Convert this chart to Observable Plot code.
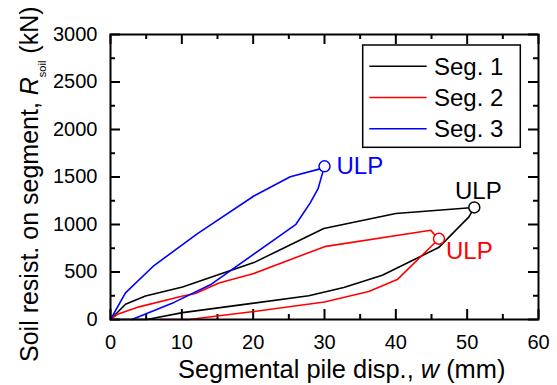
<!DOCTYPE html>
<html>
<head>
<meta charset="utf-8">
<script src="https://cdn.jsdelivr.net/npm/d3@7"></script>
<script src="https://cdn.jsdelivr.net/npm/@observablehq/plot@0.6"></script>
<style>
  html, body { margin: 0; padding: 0; background: #fff; }
  #chart { position: relative; width: 557px; height: 385px; }
</style>
</head>
<body>
<div id="chart"></div>
<script>
// ---- data ----
const seriesNames = ["Seg. 1", "Seg. 2", "Seg. 3"];
const seriesColors = ["#000000", "#ff0000", "#0000ff"];

const seg1X = [0, 2.1, 4.9, 10.1, 20.1, 29.9, 40.0, 50.0, 51.0, 50.25, 46.0, 38.1, 32.7, 27.8, 20.1, 10.1, 5.1, 0];
const seg1Y = [0, 161, 247, 343, 599, 957, 1115, 1174, 1180, 1080, 757, 466, 337, 250, 172, 72, 0, 0];

const seg2X = [0, 0.9, 4.0, 10.0, 11.9, 15.2, 20.1, 30.0, 44.9, 45.3, 46.05, 40.2, 36.2, 30.0, 20.1, 11.0, 7.0];
const seg2Y = [0, 52, 133, 245, 273, 385, 484, 767, 940, 904, 850, 420, 294, 185, 84, 0, 0];

const seg3X = [0, 2.1, 6.1, 12.2, 20.1, 25.2, 29.5, 30.0, 29.5, 29.1, 28.0, 26.0, 14.0, 8.9, 3.0];
const seg3Y = [0, 280, 568, 904, 1300, 1503, 1588, 1612, 1483, 1377, 1228, 1002, 365, 180, 0];

const ulpX = [51.0, 46.05, 30.0];
const ulpY = [1180, 850, 1612];
const ulpLabel = ["ULP", "ULP", "ULP"];

const xTicks = [0, 10, 20, 30, 40, 50, 60];
const xMinor = [5, 15, 25, 35, 45, 55];
const yTicks = [0, 500, 1000, 1500, 2000, 2500, 3000];
const yMinor = [250, 750, 1250, 1750, 2250, 2750];

// ---- build tables ----
const segX = [seg1X, seg2X, seg3X];
const segY = [seg1Y, seg2Y, seg3Y];
const rows = [];
seriesNames.forEach((name, s) => {
  segX[s].forEach((x, i) => rows.push({series: name, x, y: segY[s][i]}));
});
const ulp = seriesNames.map((name, s) => ({series: name, x: ulpX[s], y: ulpY[s], label: ulpLabel[s]}));

const W = 557, H = 385, mt = 34, mb = 66, ml = 110, mr = 19;
const innerH = H - mt - mb, innerW = W - ml - mr;
const major = 10, minor = 5;
const font = "'Liberation Sans', Arial, Helvetica, sans-serif";

const plot = Plot.plot({
  width: W, height: H,
  marginTop: mt, marginBottom: mb, marginLeft: ml, marginRight: mr,
  style: {fontFamily: font, fontSize: "20px", color: "#000", background: "#fff", overflow: "visible"},
  x: {domain: [0, 60]},
  y: {domain: [0, 3000]},
  color: {domain: seriesNames, range: seriesColors},
  marks: [
    Plot.axisX({ticks: xTicks, tickSize: 0, tickPadding: 15, label: null, fontSize: 20, tickFormat: d => String(d)}),
    Plot.axisY({ticks: yTicks, tickSize: 0, tickPadding: 13, label: null, fontSize: 20, tickFormat: d => String(d)}),
    // inward ticks, all four sides
    Plot.tickX(xTicks, {x: d => d, insetTop: innerH - major, strokeWidth: 2}),
    Plot.tickX(xTicks, {x: d => d, insetBottom: innerH - major, strokeWidth: 2}),
    Plot.tickX(xMinor, {x: d => d, insetTop: innerH - minor, strokeWidth: 2}),
    Plot.tickX(xMinor, {x: d => d, insetBottom: innerH - minor, strokeWidth: 2}),
    Plot.tickY(yTicks, {y: d => d, insetRight: innerW - major, strokeWidth: 2}),
    Plot.tickY(yTicks, {y: d => d, insetLeft: innerW - major, strokeWidth: 2}),
    Plot.tickY(yMinor, {y: d => d, insetRight: innerW - minor, strokeWidth: 2}),
    Plot.tickY(yMinor, {y: d => d, insetLeft: innerW - minor, strokeWidth: 2}),
    Plot.line(rows, {x: "x", y: "y", z: "series", stroke: "series", strokeWidth: 1.6, curve: "linear"}),
    Plot.dot(ulp, {x: "x", y: "y", r: 5.5, stroke: "series", fill: "#fff", strokeWidth: 1.5}),
    Plot.text(ulp.filter(d => d.series === "Seg. 1"), {x: "x", y: "y", text: "label", fill: seriesColors[0], fontSize: 24, textAnchor: "middle", lineAnchor: "bottom", dx: 4, dy: -8}),
    Plot.text(ulp.filter(d => d.series === "Seg. 2"), {x: "x", y: "y", text: "label", fill: seriesColors[1], fontSize: 24, textAnchor: "start", lineAnchor: "top", dx: 7, dy: 3}),
    Plot.text(ulp.filter(d => d.series === "Seg. 3"), {x: "x", y: "y", text: "label", fill: seriesColors[2], fontSize: 24, textAnchor: "start", lineAnchor: "middle", dx: 12, dy: 0}),
    Plot.frame({stroke: "#000", strokeWidth: 2})
  ]
});

const svg = d3.select(plot);

// axis titles
const xt = svg.append("text")
  .attr("x", 178).attr("y", 378).attr("text-anchor", "start")
  .attr("font-family", font).attr("font-size", 25.4).attr("fill", "#000");
xt.append("tspan").text("Segmental pile disp., ");
xt.append("tspan").attr("font-style", "italic").text("w");
xt.append("tspan").text(" (mm)");

const yt = svg.append("text")
  .attr("transform", "translate(38,362) rotate(-90)").attr("text-anchor", "start")
  .attr("font-family", font).attr("font-size", 25).attr("fill", "#000");
yt.append("tspan").text("Soil resist. on segment, ");
yt.append("tspan").attr("font-style", "italic").text("R");
yt.append("tspan").attr("font-size", 11).attr("dy", 8).text("soil");
yt.append("tspan").attr("dy", -8).text(" (kN)");

// legend
const lg = svg.append("g");
lg.append("rect").attr("x", 362.7).attr("y", 45).attr("width", 157.6).attr("height", 102.3)
  .attr("fill", "#fff").attr("stroke", "#000").attr("stroke-width", 1.5);
seriesNames.forEach((name, i) => {
  const cy = 66.3 + i * 31.2;
  lg.append("line").attr("x1", 369.3).attr("x2", 426.7).attr("y1", cy).attr("y2", cy)
    .attr("stroke", seriesColors[i]).attr("stroke-width", 1.5);
  lg.append("text").attr("x", 434).attr("y", cy).attr("dy", "0.35em").attr("text-anchor", "start")
    .attr("font-family", font).attr("font-size", 24).attr("fill", "#000").text(name);
});

document.getElementById("chart").appendChild(plot);
</script>
</body>
</html>
